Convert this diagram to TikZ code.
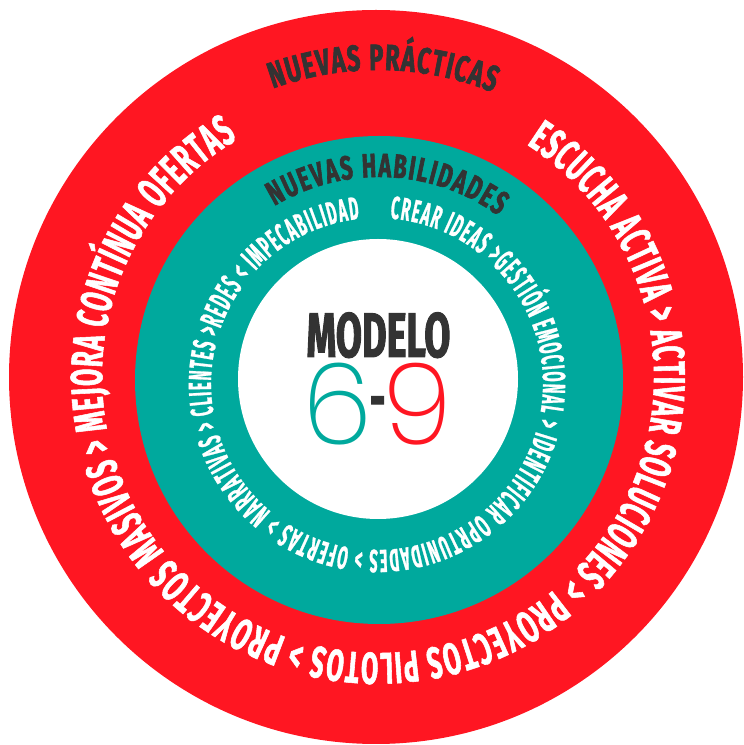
\documentclass[tikz,border=0pt]{standalone}
\usepackage{fontspec}
\usetikzlibrary{decorations.text}
\newfontfamily\outerfam[FakeStretch=0.56,FakeBold=1.2]{Fira Sans Bold}
\newfontfamily\titlefam[FakeStretch=0.64,FakeBold=1.8]{Fira Sans Bold}
\newfontfamily\innerfam[FakeStretch=0.46,FakeBold=0.8]{Fira Sans Bold}
\newfontfamily\modelofam[FakeStretch=0.6,FakeBold=1.5]{Fira Sans Bold}
\newfontfamily\digitfont[FakeStretch=1.0]{Poppins ExtraLight}
\definecolor{ringred}{HTML}{FF1622}
\definecolor{ringteal}{HTML}{00A99D}
\definecolor{darktext}{HTML}{333333}
\newcommand\outerfont{\outerfam\fontsize{44.5}{50}\selectfont}
\newcommand\topfont{\titlefam\fontsize{36.5}{42}\selectfont}
\newcommand\midfont{\titlefam\fontsize{33.5}{38}\selectfont}
\newcommand\innerfont{\innerfam\fontsize{32}{36}\selectfont}
\newcommand\modelofont{\modelofam\fontsize{63}{63}\selectfont}
\tikzset{
  arctext/.style={decorate, decoration={text along path, text align=fit to path, #1}},
}
\begin{document}
\begin{tikzpicture}[x=1pt,y=1pt]
\useasboundingbox (0,0) rectangle (744,745);
% rings
\fill[ringred] (376,368) circle[radius=367];
\fill[ringteal] (379,365) circle[radius=244];
\fill[white] (378,366) circle[radius=140];
% centres of the text arcs
\coordinate (oc) at (378,368);
\coordinate (tc) at (379,365);
\coordinate (ic) at (377,361);
% outer ring texts
\path[arctext={text color=white, text={|\outerfont|ESCUCHA ACTIVA > ACTIVAR SOLUCIONES > PROYECTOS PILOTOS > PROYECTOS MASIVOS > MEJORA CONTÍNUA OFERTAS}}]
  ([shift={(57.4:276)}]oc) arc[start angle=57.4, end angle=-239.4, radius=276];
\path[arctext={text color=darktext, text={|\topfont|NUEVAS PRÁCTICAS}}]
  ([shift={(110:307)}]oc) arc[start angle=110, end angle=68, radius=307];
% teal ring texts
\path[arctext={text color=darktext, text={|\midfont|NUEVAS HABILIDADES}}]
  ([shift={(121:203)}]tc) arc[start angle=121, end angle=54, radius=203];
\path[arctext={text color=white, text={|\innerfont|CREAR IDEAS >GESTIÓN EMOCIONAL > IDENTIFICAR OPRTUNIDADES > OFERTAS > NARRATIVAS > CLIENTES >REDES < IMPECABILIDAD}}]
  ([shift={(85.5:166)}]ic) arc[start angle=85.5, end angle=-264, radius=166];
% centre
\node[anchor=base, inner sep=0, font=\modelofont, text=darktext] (modelo) at (378.5,388) {MODELO};
\node[anchor=base, inner sep=0] (numero) at (377.5,300)
  {\digitfont\fontsize{113}{113}\selectfont\color{ringteal}6\hspace{-3pt}\raisebox{25pt}{\modelofont\color{darktext}-}\hspace{-3pt}\color{ringred}9};
\end{tikzpicture}
\end{document}
